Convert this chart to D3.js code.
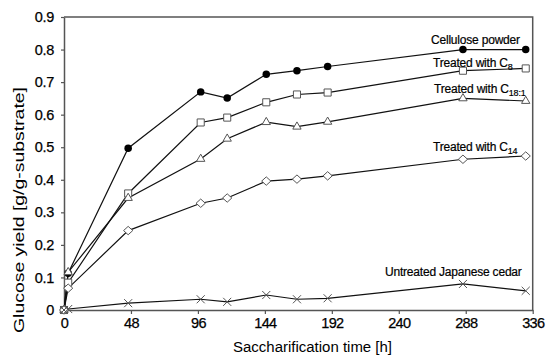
<!DOCTYPE html>
<html>
<script src="https://d3js.org/d3.v7.min.js"></script>
<style>
  body { margin: 0; background: white; }
  text { font-family: "Liberation Sans", Arial, sans-serif; fill: #000; }
</style>
<body>
<script>

// data
var times      = [0, 3, 46, 98, 117, 145, 167, 189, 286, 331];
var cellulose  = [0, 0.113, 0.497, 0.670, 0.651, 0.724, 0.735, 0.748, 0.800, 0.800];
var withC8     = [0, 0.084, 0.358, 0.576, 0.591, 0.638, 0.662, 0.668, 0.735, 0.742];
var withC181   = [0, 0.116, 0.344, 0.464, 0.526, 0.577, 0.563, 0.578, 0.650, 0.642];
var withC14    = [0, 0.067, 0.244, 0.328, 0.344, 0.396, 0.402, 0.412, 0.463, 0.473];
var untreated  = [0, 0.003, 0.021, 0.033, 0.025, 0.046, 0.033, 0.036, 0.080, 0.059];

var xTicks = [0, 48, 96, 144, 192, 240, 288, 336];
var yTicks = [0, 0.1, 0.2, 0.3, 0.4, 0.5, 0.6, 0.7, 0.8, 0.9];
var yTickLabels = ["0", "0.1", "0.2", "0.3", "0.4", "0.5", "0.6", "0.7", "0.8", "0.9"];

var width = 549, height = 357;
var svg = d3.select("body").append("svg").attr("width", width).attr("height", height);

var x = d3.scaleLinear().domain([0, 336]).range([64, 532.7]);
var y = d3.scaleLinear().domain([0, 0.9]).range([310, 17]);

var axisColor = "#555";

// axes
var gx = svg.append("g").attr("transform", "translate(0," + y(0) + ")")
  .call(d3.axisBottom(x).tickValues(xTicks).tickSize(4).tickSizeOuter(0).tickFormat(d3.format("d")));
var gy = svg.append("g").attr("transform", "translate(" + x(0) + ",0)")
  .call(d3.axisLeft(y).tickValues(yTicks).tickSize(3).tickSizeOuter(0).tickFormat((d, i) => yTickLabels[i]));

[gx, gy].forEach(function(g) {
  g.select(".domain").attr("stroke", axisColor).attr("stroke-width", 1.5);
  g.selectAll(".tick line").attr("stroke", axisColor).attr("stroke-width", 1.2);
  g.selectAll(".tick text").attr("fill", "#000").attr("font-size", 14.5)
    .attr("stroke", "#000").attr("stroke-width", 0.25)
    .attr("font-family", "Liberation Sans, Arial, sans-serif");
});
gx.selectAll(".tick text").attr("y", 8).attr("letter-spacing", -0.7);
gy.selectAll(".tick text").attr("x", -10).attr("letter-spacing", -0.3);

// top and right frame
svg.append("path")
  .attr("d", "M" + x(0) + "," + y(0.9) + "H" + x(336) + "V" + y(0))
  .attr("fill", "none").attr("stroke", axisColor).attr("stroke-width", 1.5);

// axis titles
svg.append("text").attr("x", 233).attr("y", 352)
  .attr("font-size", 14).attr("textLength", 159).attr("lengthAdjust", "spacingAndGlyphs")
  .text("Saccharification time [h]");
svg.append("text").attr("transform", "translate(24,333) rotate(-90)")
  .attr("font-size", 14).attr("textLength", 246).attr("lengthAdjust", "spacingAndGlyphs")
  .text("Glucose yield [g/g-substrate]");

// series
var series = [
  {name: "cellulose", values: cellulose, marker: "circle"},
  {name: "c8", values: withC8, marker: "square"},
  {name: "c181", values: withC181, marker: "triangle"},
  {name: "c14", values: withC14, marker: "diamond"},
  {name: "untreated", values: untreated, marker: "cross"}
];

var line = d3.line().x(d => x(d[0])).y(d => y(d[1]));

series.forEach(function(s) {
  var pts = times.map((t, i) => [t, s.values[i]]);
  svg.append("path").datum(pts).attr("d", line)
    .attr("fill", "none").attr("stroke", "#111").attr("stroke-width", 1.2);
  s.pts = pts;
});

var sym = {
  circle: d3.symbol().type(d3.symbolCircle).size(44),
  square: d3.symbol().type(d3.symbolSquare).size(50),
  triangle: d3.symbol().type(d3.symbolTriangle).size(30),
  diamond: "M0,-4.2L4.6,0L0,4.2L-4.6,0Z",
  cross: d3.symbol().type(d3.symbolTimes).size(44)
};

// markers: cellulose drawn first so the open triangle covers it at t=3
series.forEach(function(s) {
  svg.append("g").selectAll("path").data(s.pts).enter().append("path")
    .attr("transform", d => "translate(" + x(d[0]) + "," + y(d[1]) + ")")
    .attr("d", sym[s.marker])
    .attr("fill", s.marker == "circle" ? "#000" : (s.marker == "cross" ? "none" : "#fff"))
    .attr("stroke", s.marker == "circle" ? "none" : "#555")
    .attr("stroke-width", 1);
});

// series labels
function label(xp, yp, main, sub) {
  var t = svg.append("text").attr("x", xp).attr("y", yp).attr("font-size", 12)
    .attr("stroke", "#000").attr("stroke-width", 0.2).attr("letter-spacing", -0.2).text(main);
  if (sub) t.append("tspan").attr("font-size", 9).attr("dy", 3).text(sub);
}
label(431, 43.5, "Cellulose powder");
label(433, 66.5, "Treated with C", "8");
label(434, 92.5, "Treated with C", "18:1");
label(433, 150.5, "Treated with C", "14");
label(385, 275.5, "Untreated  Japanese cedar");

</script>
</body>
</html>
